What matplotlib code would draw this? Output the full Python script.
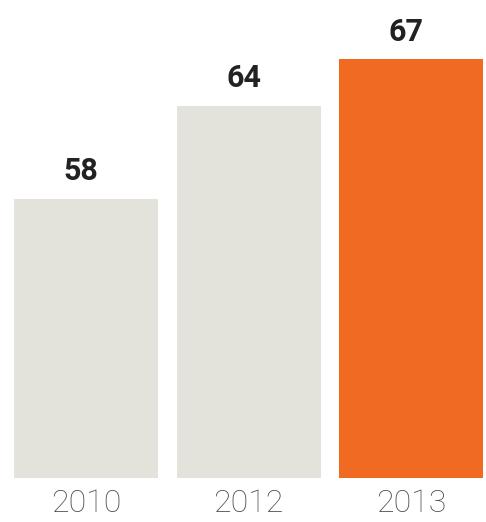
import matplotlib
matplotlib.use("Agg")
import matplotlib.pyplot as plt

years = ["2010", "2012", "2013"]
values = [58, 64, 67]
colors = ["#e3e2db", "#e3e2db", "#f06a22"]

fig = plt.figure(figsize=(4.86, 5.22), dpi=100)
ax = fig.add_axes([0, 44/522, 1, 478/522])
x = list(range(len(years)))
bars = ax.bar(x, values, width=0.885, color=colors)
ax.set_ylim(40, 70.8)
ax.set_xlim(-0.53, 2.46)
for xi, v in zip(x, values):
    ax.text(xi - 0.03, v + 0.8, str(v), ha="center", va="bottom",
            fontsize=22, fontweight="bold", color="#222222", family="Roboto")
ax.set_xticks(x)
ax.set_xticklabels(years, fontsize=23, color="#4a4a4a", family="Roboto", fontweight="light")
ax.tick_params(axis="x", length=0, pad=8)
ax.set_yticks([])
for s in ax.spines.values():
    s.set_visible(False)
fig.savefig("out.png", dpi=100)
